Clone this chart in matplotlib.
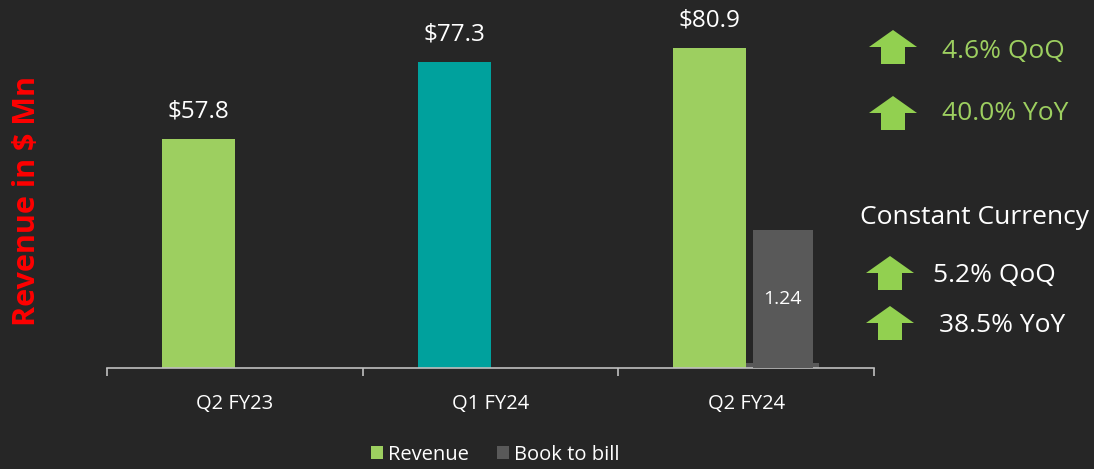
import matplotlib.pyplot as plt
from matplotlib.patches import Polygon
import numpy as np

plt.rcParams['font.family'] = ['Open Sans', 'DejaVu Sans']

# data
quarters = ["Q2 FY23", "Q1 FY24", "Q2 FY24"]
revenue = [57.8, 77.3, 80.9]
book_to_bill = [np.nan, np.nan, 1.24]
growth_labels = ["4.6% QoQ", "40.0% YoY"]
cc_labels = ["5.2% QoQ", "38.5% YoY"]

bg = "#262626"
green = "#9DCF60"
teal = "#00A19D"
grey = "#595959"
arrow_green = "#92D050"

fig = plt.figure(figsize=(10.94, 4.69), dpi=100, facecolor=bg)
ax = fig.add_axes([0.0978, 0.2154, 0.7012, 0.76])
ax.set_facecolor(bg)

x = np.arange(len(quarters))
w = 0.285
rev_colors = [green, teal, green]
ax.bar(x - w / 2, revenue, w, color=rev_colors, label="Revenue")
ax.bar(x + w / 2, book_to_bill, w, color=grey, label="Book to bill")
for xi, v in zip(x, revenue):
    ax.text(xi - w / 2, v + 6.9, "$%.1f" % v, ha="center", va="center",
            color="white", fontsize=17.5)

# book to bill on its own scale
ax2 = ax.twinx()
ax2.bar(x + w / 2, book_to_bill, 0.235, color=grey)
ax2.set_ylim(0, 3.2)
ax2.axis("off")
for xi, v in zip(x, book_to_bill):
    if not np.isnan(v):
        ax2.text(xi + w / 2, v / 2, "%.2f" % v, ha="center", va="center",
                 color="white", fontsize=14)

ax.set_xlim(-0.5, 2.5)
ax.set_ylim(0, 90)
ax.set_xticks(x)
ax.set_xticklabels(quarters, color="white", fontsize=14.5)
ax.set_xticks([-0.5, 0.5, 1.5, 2.5], minor=True)
ax.tick_params(axis="x", which="major", length=0, pad=19)
ax.tick_params(axis="x", which="minor", length=6, color="#BFBFBF", width=1.2)
ax.set_yticks([])
for s in ["top", "right", "left"]:
    ax.spines[s].set_visible(False)
ax.spines["bottom"].set_color("#BFBFBF")
ax.spines["bottom"].set_linewidth(1.2)

fig.text(0.025, 0.571, "Revenue in $ Mn", rotation=90, color="#FF0000",
         fontsize=22, fontweight="bold", ha="center", va="center")

leg = ax.legend(loc="center", bbox_to_anchor=(0.506, -0.244), ncol=2,
                frameon=False, fontsize=14.5, handlelength=0.6, handleheight=0.6,
                handletextpad=0.25, columnspacing=1.4)
for t in leg.get_texts():
    t.set_color("white")


def up_arrow(cx, cy):
    # green block arrow, given in pixel coords from top-left
    pts = [(cx - 24, cy), (cx, cy - 17), (cx + 24, cy), (cx + 12, cy),
           (cx + 12, cy + 17), (cx - 12, cy + 17), (cx - 12, cy)]
    pts = [(px / 1094, 1 - py / 469) for px, py in pts]
    fig.patches.append(Polygon(pts, closed=True, transform=fig.transFigure,
                               facecolor=arrow_green, edgecolor="none"))


for lab, cy, ty in zip(growth_labels, [47, 113], [52, 113]):
    up_arrow(893, cy)
    fig.text(942 / 1094, 1 - ty / 469, lab, color=green, fontsize=19,
             ha="left", va="center")

fig.text(975 / 1094, 1 - 218 / 469, "Constant Currency", color="white",
         fontsize=19, ha="center", va="center")
for lab, cy, ty, tx in zip(cc_labels, [273, 323], [275, 325], [933, 939]):
    up_arrow(890, cy)
    fig.text(tx / 1094, 1 - ty / 469, lab, color="white", fontsize=19,
             ha="left", va="center")

fig.savefig("out.png", facecolor=bg)
